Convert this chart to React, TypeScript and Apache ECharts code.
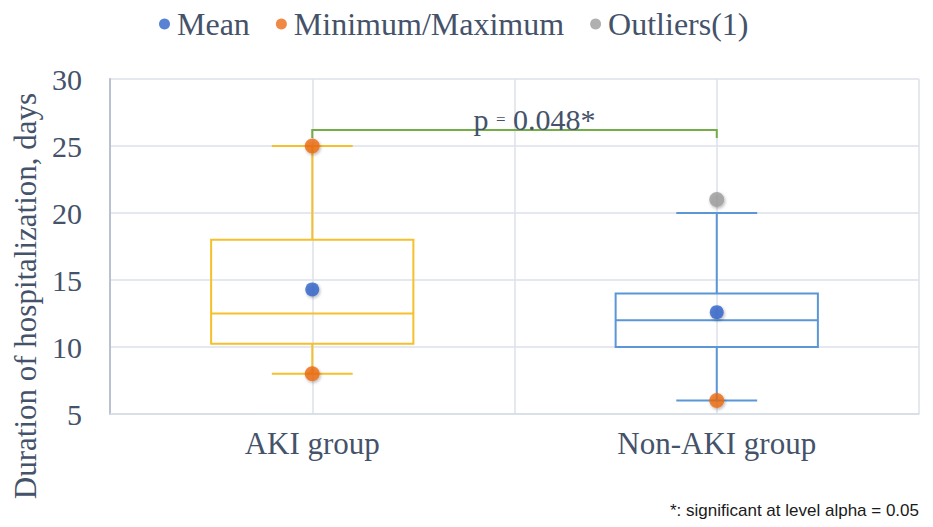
import React, { useEffect, useRef } from "react";
import * as echarts from "echarts";

const categories = ["AKI group", "Non-AKI group"];
// [categoryIndex, lowWhisker, Q1, median, Q3, highWhisker]
const boxData = [
  [0, 8, 10.25, 12.5, 18, 25],
  [1, 6, 10, 12, 14, 20],
];
const boxColors = ["#F6BF2C", "#5B96D6"];
const meanData = [
  [0, 14.3],
  [1, 12.6],
];
const minMaxData = [
  [0, 25],
  [0, 8],
  [1, 6],
];
const outlierData = [[1, 21]];
const bracketData = [[0, 1, 26.2, 25.6]];
const pText = "0.048*";
const yTicks = { min: 5, max: 30, interval: 5 };

const SERIF = "'Liberation Serif', 'Times New Roman', serif";
const TEXT = "#44526A";

export default function App() {
  const ref = useRef<HTMLDivElement>(null);
  useEffect(() => {
    if (!ref.current) return;
    const chart = echarts.init(ref.current, null, { renderer: "svg" });
    const dotShadow = {
      shadowBlur: 3,
      shadowColor: "rgba(0,0,0,0.35)",
      shadowOffsetY: 1.5,
      shadowOffsetX: 1,
    };
    chart.setOption({
      animation: false,
      backgroundColor: "#ffffff",
      legend: {
        top: 3,
        left: 154,
        icon: "circle",
        itemWidth: 11,
        itemHeight: 11,
        itemGap: 26,
        textStyle: { fontFamily: SERIF, fontSize: 32, color: TEXT, padding: [0, 0, 0, 2] },
        data: ["Mean", "Minimum/Maximum", "Outliers(1)"],
      },
      grid: { left: 110, right: 14, top: 79, bottom: 113 },
      xAxis: [
        {
          type: "category",
          data: categories,
          axisLine: { lineStyle: { color: "#D6DCE5", width: 1.5 } },
          axisTick: { show: false },
          splitLine: { show: false },
          axisLabel: { fontFamily: SERIF, fontSize: 31, color: TEXT, margin: 14 },
        },
        {
          type: "value",
          min: 0,
          max: 4,
          interval: 1,
          position: "top",
          axisLine: { show: false },
          axisTick: { show: false },
          axisLabel: { show: false },
          splitLine: { show: true, lineStyle: { color: "#DDE2EA", width: 1.5 } },
        },
      ],
      yAxis: {
        type: "value",
        min: yTicks.min,
        max: yTicks.max,
        interval: yTicks.interval,
        axisLine: { show: true, lineStyle: { color: "#B8C2D1", width: 2 } },
        axisTick: { show: false },
        splitLine: { lineStyle: { color: "#DDE2EA", width: 1.5 } },
        axisLabel: { fontFamily: SERIF, fontSize: 30, color: TEXT, margin: 28 },
      },
      graphic: [
        {
          type: "text",
          x: 25,
          y: 296,
          rotation: Math.PI / 2,
          style: {
            text: "Duration of hospitalization, days",
            fontFamily: SERIF,
            fontSize: 31,
            fill: TEXT,
            textAlign: "center",
            textVerticalAlign: "middle",
          },
        },
        {
          type: "text",
          right: 14,
          top: 502,
          style: {
            text: "*: significant at level alpha = 0.05",
            fontFamily: "'Liberation Sans', Arial, sans-serif",
            fontSize: 17,
            fill: "#1a1a1a",
          },
        },
      ],
      series: [
        {
          type: "custom",
          name: "box",
          xAxisIndex: 0,
          z: 2,
          data: boxData,
          encode: { x: 0, y: [1, 2, 3, 4, 5] },
          renderItem: (params: any, api: any) => {
            const c = api.value(0);
            const lo = api.coord([c, api.value(1)]);
            const q1 = api.coord([c, api.value(2)]);
            const med = api.coord([c, api.value(3)]);
            const q3 = api.coord([c, api.value(4)]);
            const hi = api.coord([c, api.value(5)]);
            const band = api.size([1, 0])[0];
            const bw = band * 0.5;
            const cw = band * 0.2;
            const cx = lo[0];
            const color = boxColors[params.dataIndex];
            const ls = { stroke: color, lineWidth: 2, fill: "none" };
            return {
              type: "group",
              children: [
                { type: "line", shape: { x1: cx, y1: q3[1], x2: cx, y2: hi[1] }, style: ls },
                { type: "line", shape: { x1: cx, y1: q1[1], x2: cx, y2: lo[1] }, style: ls },
                { type: "line", shape: { x1: cx - cw / 2, y1: hi[1], x2: cx + cw / 2, y2: hi[1] }, style: ls },
                { type: "line", shape: { x1: cx - cw / 2, y1: lo[1], x2: cx + cw / 2, y2: lo[1] }, style: ls },
                {
                  type: "rect",
                  shape: { x: cx - bw / 2, y: q3[1], width: bw, height: q1[1] - q3[1] },
                  style: ls,
                },
                { type: "line", shape: { x1: cx - bw / 2, y1: med[1], x2: cx + bw / 2, y2: med[1] }, style: ls },
              ],
            };
          },
        },
        {
          type: "custom",
          name: "bracket",
          xAxisIndex: 0,
          z: 3,
          data: bracketData,
          encode: { x: [0, 1], y: [2, 3] },
          renderItem: (params: any, api: any) => {
            const a = api.coord([api.value(0), api.value(2)]);
            const b = api.coord([api.value(1), api.value(2)]);
            const ya = api.coord([api.value(0), api.value(3)])[1];
            return {
              type: "group",
              children: [
                {
                  type: "polyline",
                  shape: { points: [[a[0], ya], a, b, [b[0], ya]] },
                  style: { stroke: "#72AD47", lineWidth: 2, fill: "none" },
                },
                {
                  type: "text",
                  x: (a[0] + b[0]) / 2 + 20,
                  y: a[1] + 5,
                  style: {
                    text: "{p|p }{e|=}{p| " + pText + "}",
                    textAlign: "center",
                    textVerticalAlign: "bottom",
                    rich: {
                      p: { fontFamily: SERIF, fontSize: 30, fill: TEXT, color: TEXT },
                      e: { fontFamily: SERIF, fontSize: 17, fill: TEXT, color: TEXT },
                    },
                  },
                },
              ],
            };
          },
        },
        {
          type: "scatter",
          name: "Mean",
          xAxisIndex: 0,
          z: 5,
          symbolSize: 14,
          itemStyle: { color: "#2E63C9", ...dotShadow },
          data: meanData,
        },
        {
          type: "scatter",
          name: "Minimum/Maximum",
          xAxisIndex: 0,
          z: 5,
          symbolSize: 15,
          itemStyle: { color: "#EC6B14", ...dotShadow },
          data: minMaxData,
        },
        {
          type: "scatter",
          name: "Outliers(1)",
          xAxisIndex: 0,
          z: 5,
          symbolSize: 15,
          itemStyle: { color: "#9C9C9C", ...dotShadow },
          data: outlierData,
        },
      ],
    });
    return () => chart.dispose();
  }, []);
  return <div ref={ref} style={{ width: 933, height: 527, position: "absolute", left: 0, top: 0 }} />;
}
